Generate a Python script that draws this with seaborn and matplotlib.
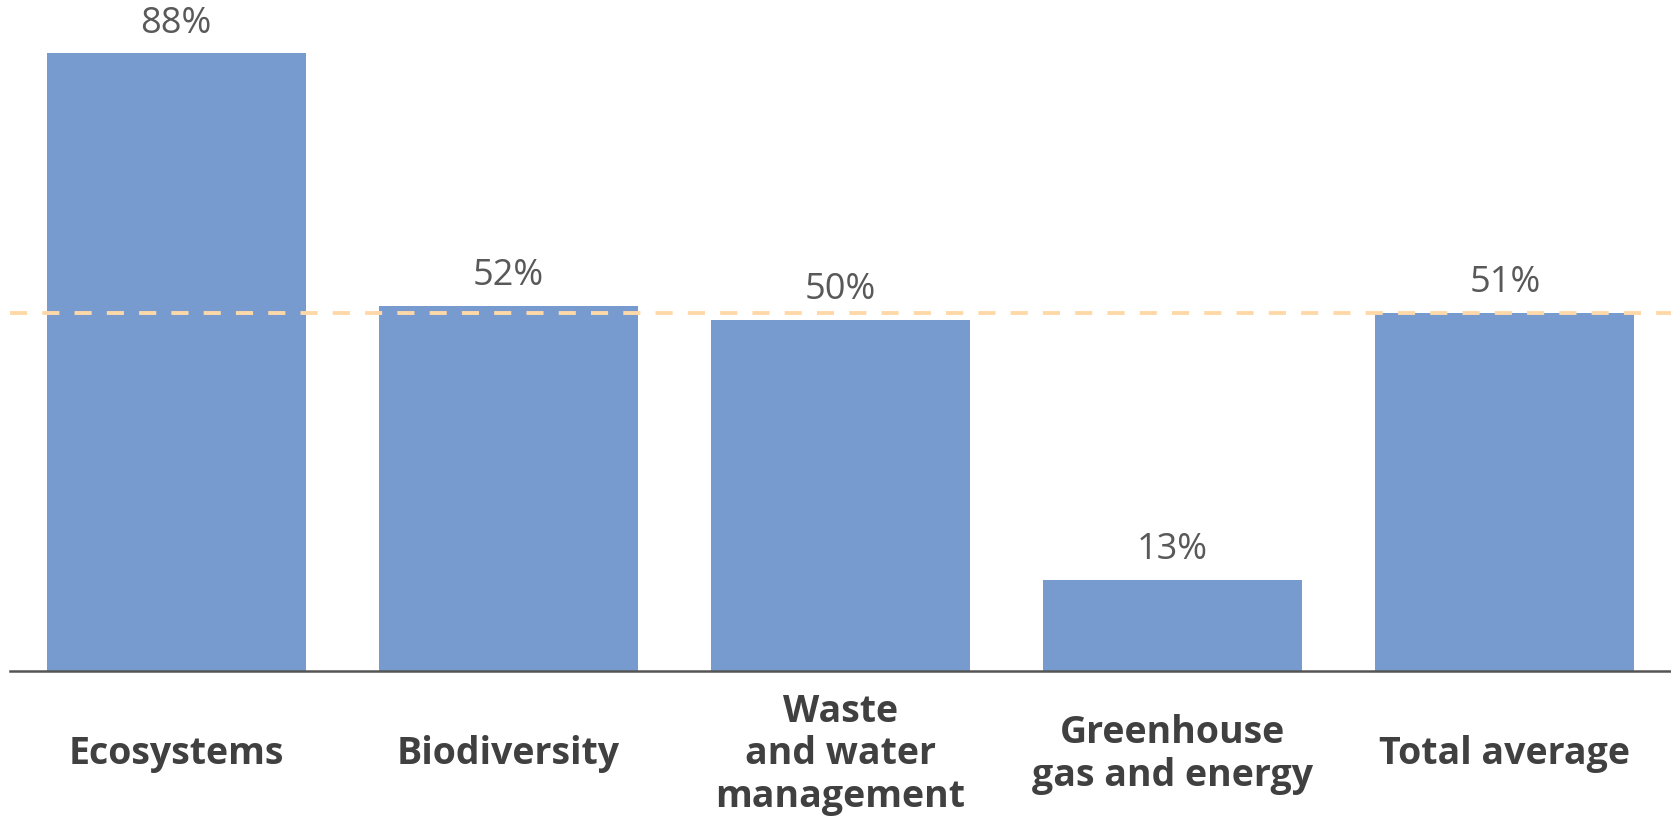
import matplotlib
matplotlib.use("Agg")
import matplotlib.pyplot as plt
import seaborn as sns
import pandas as pd

categories = ["Ecosystems", "Biodiversity", "Waste\nand water\nmanagement",
              "Greenhouse\ngas and energy", "Total average"]
values = [88, 52, 50, 13, 51]
value_labels = ["88%", "52%", "50%", "13%", "51%"]
average = 51

sns.set_theme(style="white")
plt.rcParams["font.family"] = ["Open Sans", "DejaVu Sans"]

bar_color = "#779BCE"
dash_color = "#FFD8A8"
value_color = "#595959"
label_color = "#404040"

df = pd.DataFrame({"category": categories, "value": values})

fig = plt.figure(figsize=(16.71, 8.16), dpi=100)
ax = fig.add_axes([10 / 1671, 145 / 816, 1 - 10 / 1671, 671 / 816])

sns.barplot(data=df, x="category", y="value", color=bar_color,
            saturation=1, width=0.78, ax=ax)
for p in ax.patches:
    p.set_edgecolor("none")

ax.bar_label(ax.containers[0], labels=value_labels, padding=8.5,
             fontsize=26, color=value_color)

# overall average reference line
ax.axhline(average, color=dash_color, lw=2.8, dashes=(4.4, 3.9), zorder=5)

ax.set_xlim(-0.5, 4.5)
ax.set_ylim(0, 95.6)
ax.set_xlabel("")
ax.set_ylabel("")
ax.set_yticks([])

for s in ["top", "right", "left"]:
    ax.spines[s].set_visible(False)
ax.spines["bottom"].set_color("#555555")
ax.spines["bottom"].set_linewidth(1.8)

# small white separators between categories on the baseline
ax.set_xticks([0.5, 1.5, 2.5, 3.5], minor=True)
ax.tick_params(axis="x", which="minor", direction="inout", length=5,
               width=1.6, color="white")
ax.xaxis.set_zorder(3)

ax.tick_params(axis="x", which="major", length=0, pad=60)
for lbl in ax.get_xticklabels():
    lbl.set_fontsize(27)
    lbl.set_fontweight("bold")
    lbl.set_color(label_color)
    lbl.set_verticalalignment("center")
    lbl.set_linespacing(1.15)

fig.savefig("out.png", dpi=100)
